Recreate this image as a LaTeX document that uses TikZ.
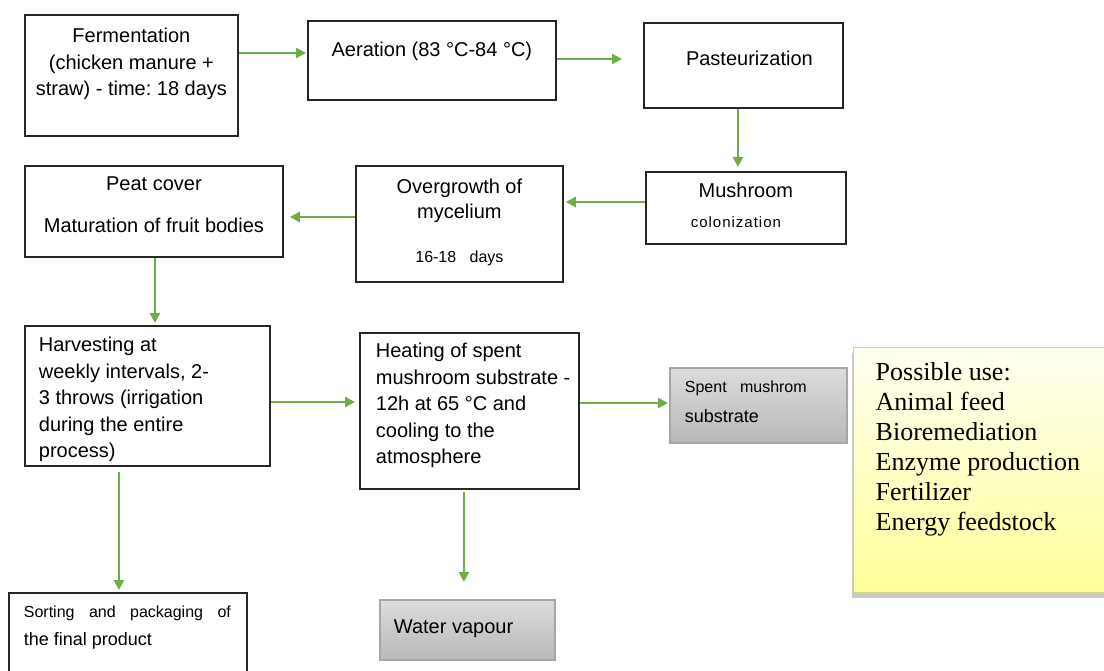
\documentclass[tikz,border=0pt]{standalone}
\usepackage{fontspec}
\setmainfont{Liberation Serif}
\setsansfont{Liberation Sans}
\usetikzlibrary{arrows.meta,shadows}
\definecolor{flowgreen}{HTML}{70AD47}
\definecolor{boxline}{HTML}{262626}
\definecolor{greytop}{HTML}{DCDCDC}
\definecolor{greybot}{HTML}{B8B8B8}
\definecolor{greyline}{HTML}{A6A6A6}
\definecolor{yelltop}{HTML}{FFFFF2}
\definecolor{yellbot}{HTML}{FFFF99}
\definecolor{yellline}{HTML}{D6D47C}
% top aligned text block: width, height, content
\newcommand{\boxtxt}[3]{\parbox[t][#2][t]{#1}{#3}}
\frenchspacing
\begin{document}
\begin{tikzpicture}[x=1pt,y=-1pt,
  stepbox/.style={draw=boxline,line width=1.8pt,fill=white,inner sep=0pt,anchor=north west,
    font=\sffamily\fontsize{20}{26.5}\selectfont},
  greybox/.style={stepbox,draw=greyline,top color=greytop,bottom color=greybot},
  notebox/.style={draw=yellline,line width=1.4pt,inner sep=0pt,anchor=north west,
    top color=yelltop,bottom color=yellbot,
    drop shadow={shadow xshift=-2pt,shadow yshift=-5pt,opacity=.35,fill=black!60},
    font=\rmfamily\fontsize{26}{30}\selectfont},
  flow/.style={draw=flowgreen,line width=2.5pt,-{Triangle[length=10pt,width=10pt]}}]
\useasboundingbox (0,0) rectangle (1104,671);
\clip (0,0) rectangle (1104,671);

% first row
\node[stepbox] (ferm) at (24,14) {\boxtxt{213pt}{121pt}{\vspace*{9.5pt}\centering
  \strut Fermentation\\(chicken manure +\\straw) - time: 18 days}};
\node[stepbox] (aer) at (307,20) {\boxtxt{248pt}{79pt}{\vspace*{17.5pt}\centering
  \strut Aeration (83 °C-84 °C)}};
\node[stepbox] (past) at (643,22) {\boxtxt{199pt}{85pt}{\vspace*{24.5pt}\centering
  \strut\hspace*{12pt}Pasteurization}};

% second row
\node[stepbox] (mush) at (645,171) {\boxtxt{200pt}{72pt}{\vspace*{7.5pt}\centering
  \strut Mushroom\\[3.5pt]{\fontsize{15}{18}\selectfont\hspace*{-20pt}c\kern1pt o\kern1pt l\kern1pt o\kern1pt n\kern1pt i\kern1pt z\kern1pt a\kern1pt t\kern1pt i\kern1pt o\kern1pt n}}};
\node[stepbox] (ovg) at (355,165) {\boxtxt{207pt}{116pt}{\vspace*{9.5pt}\centering
  \strut Overgrowth of\\[-1.5pt]mycelium\\[17.5pt]{\fontsize{16}{18}\selectfont 16-18\ \ \ days}}};
\node[stepbox] (peat) at (24,165) {\boxtxt{258pt}{91pt}{\vspace*{6.5pt}\centering
  \strut Peat cover\\[15.5pt]Maturation of fruit bodies}};

% third row
\node[stepbox] (harv) at (24,325) {\boxtxt{245pt}{140pt}{\vspace*{7.5pt}\raggedright\leftskip=14pt
  \strut Harvesting at\\weekly intervals, 2-\\3 throws (irrigation\\during the entire\\process)}};
\node[stepbox] (heat) at (359,332) {\boxtxt{219pt}{156pt}{\vspace*{6.5pt}\raggedright\leftskip=16pt
  \strut Heating of spent\\mushroom substrate -\\12h at 65 °C and\\cooling to the\\atmosphere}};
\node[greybox] (spent) at (669,367) {\boxtxt{177pt}{75pt}{\vspace*{6.5pt}\raggedright\leftskip=15pt
  \strut{\fontsize{16}{19}\selectfont Spent\ \ \ mushrom}\\[3.5pt]{\fontsize{18}{20}\selectfont substrate}}};
\node[notebox] (use) at (853,347) {\boxtxt{262pt}{245pt}{\vspace*{12pt}\raggedright\leftskip=22pt
  \strut Possible use:\\Animal feed\\Bioremediation\\Enzyme production\\Fertilizer\\Energy feedstock}};

% bottom row
\node[stepbox] (sort) at (8,592) {\boxtxt{238pt}{100pt}{\vspace*{6.5pt}\raggedright\leftskip=15pt
  \strut{\fontsize{16}{19}\selectfont\makebox[207pt][s]{Sorting and packaging of}}\\[1.5pt]{\fontsize{18}{20}\selectfont the final product}}};
\node[greybox] (water) at (379,599) {\boxtxt{175pt}{60pt}{\vspace*{15.5pt}\raggedright\leftskip=14pt
  \strut Water vapour}};

% connectors
\draw[flow,shorten >=1pt] ([yshift=-39pt]ferm.north east) -- ([yshift=-33pt]aer.north west);
\draw[flow,shorten >=21pt] ([yshift=-39pt]aer.north east) -- ([yshift=-37pt]past.north west);
\draw[flow,shorten >=4pt] ([xshift=-5.5pt]past.south) -- ([xshift=-8pt]mush.north);
\draw[flow,shorten >=2pt] ([yshift=-31pt]mush.north west) -- ([yshift=-37pt]ovg.north east);
\draw[flow,shorten >=6pt] ([yshift=-52pt]ovg.north west) -- ([yshift=-52pt]peat.north east);
\draw[flow,shorten >=2pt] ([xshift=1pt]peat.south) -- ([xshift=7.5pt]harv.north);
\draw[flow,shorten >=4pt] ([yshift=-77pt]harv.north east) -- ([yshift=-70pt]heat.north west);
\draw[flow,shorten >=1pt] ([yshift=-71pt]heat.north east) -- ([yshift=-36pt]spent.north west);
\draw[flow,shorten <=5pt,shorten >=2pt] ([xshift=-28.5pt]harv.south) -- ([xshift=-9pt]sort.north);
\draw[flow,shorten <=2pt,shorten >=17pt] ([xshift=-5.5pt]heat.south) -- ([xshift=-3.5pt]water.north);
\end{tikzpicture}
\end{document}
